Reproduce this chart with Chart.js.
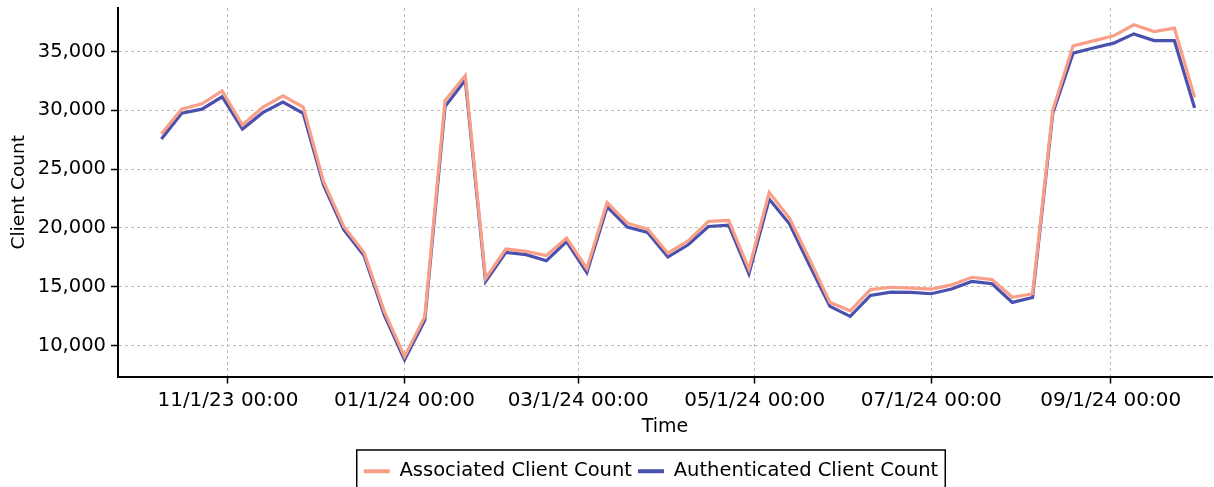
<!DOCTYPE html>
<html>
<head>
<meta charset="utf-8">
<script src="https://cdn.jsdelivr.net/npm/chart.js@4.4.1/dist/chart.umd.min.js"></script>
<style>
  html, body { margin: 0; padding: 0; background: #ffffff; }
  #wrap { width: 1214px; height: 487px; position: relative; }
</style>
</head>
<body>
<div id="wrap"><canvas id="c" width="1214" height="487"></canvas></div>
<script>
// ---- data ----
const weeks = [
  "2023-10-09","2023-10-16","2023-10-23","2023-10-30","2023-11-06","2023-11-13","2023-11-20","2023-11-27",
  "2023-12-04","2023-12-11","2023-12-18","2023-12-25","2024-01-01","2024-01-08","2024-01-15","2024-01-22",
  "2024-01-29","2024-02-05","2024-02-12","2024-02-19","2024-02-26","2024-03-04","2024-03-11","2024-03-18",
  "2024-03-25","2024-04-01","2024-04-08","2024-04-15","2024-04-22","2024-04-29","2024-05-06","2024-05-13",
  "2024-05-20","2024-05-27","2024-06-03","2024-06-10","2024-06-17","2024-06-24","2024-07-01","2024-07-08",
  "2024-07-15","2024-07-22","2024-07-29","2024-08-05","2024-08-12","2024-08-19","2024-08-26","2024-09-02",
  "2024-09-09","2024-09-16","2024-09-23","2024-09-30"
];
const associated = [
  28000, 30100, 30550, 31650, 28750, 30250, 31230, 30270,
  23950, 20120, 17900, 12900, 9050, 12450, 30830, 32950,
  15700, 18200, 18000, 17650, 19130, 16550, 22150, 20400,
  19900, 17850, 18900, 20550, 20630, 16500, 23000, 20830,
  17300, 13650, 12950, 14750, 14950, 14880, 14800, 15150,
  15800, 15600, 14100, 14400, 30050, 35480, 35900, 36330,
  37270, 36700, 36990, 31100
];
const authenticated = [
  27550, 29750, 30100, 31150, 28400, 29800, 30700, 29750,
  23650, 19850, 17650, 12600, 8780, 12130, 30320, 32580,
  15440, 17920, 17720, 17200, 18840, 16200, 21780, 20070,
  19610, 17520, 18560, 20120, 20240, 16100, 22450, 20350,
  16800, 13320, 12470, 14250, 14540, 14510, 14400, 14800,
  15440, 15250, 13660, 14080, 29780, 34860, 35300, 35710,
  36500, 35930, 35930, 30200
];
const tickDates = ["2023-11-01","2024-01-01","2024-03-01","2024-05-01","2024-07-01","2024-09-01"];
const tickLabels = ["11/1/23 00:00","01/1/24 00:00","03/1/24 00:00","05/1/24 00:00","07/1/24 00:00","09/1/24 00:00"];
const yTicks = [10000, 15000, 20000, 25000, 30000, 35000];
const xRange = ["2023-09-24", "2024-10-06"];
const yRange = [7360, 38700];

// ---- chart ----
const FONT = "'DejaVu Sans', Verdana, sans-serif";
const toXY = (vals) => vals.map((v, i) => ({ x: Date.parse(weeks[i]), y: v }));

const legendShift = {
  id: 'legendShift',
  afterLayout(chart) {
    const lg = chart.legend;
    if (!lg) return;
    lg.left += 45; lg.right += 45;
    lg.top += 4; lg.bottom += 4;
  }
};
const legendBox = {
  id: 'legendBox',
  afterDraw(chart) {
    const hb = chart.legend && chart.legend.legendHitBoxes;
    if (!hb || !hb.length) return;
    const first = hb[0], last = hb[hb.length - 1];
    const ctx = chart.ctx;
    ctx.save();
    ctx.strokeStyle = '#000';
    ctx.lineWidth = 1.5;
    const l = first.left - 7, r = last.left + last.width + 7;
    ctx.strokeRect(l, 450, r - l, 60);
    ctx.restore();
  }
};

new Chart(document.getElementById('c'), {
  type: 'line',
  data: {
    datasets: [
      { label: 'Associated Client Count', data: toXY(associated), borderColor: '#f99f87', backgroundColor: '#f99f87',
        borderWidth: 3.2, pointRadius: 0, tension: 0 },
      { label: 'Authenticated Client Count', data: toXY(authenticated), borderColor: '#4a50ad', backgroundColor: '#4a50ad',
        borderWidth: 3.2, pointRadius: 0, tension: 0 }
    ]
  },
  options: {
    responsive: false,
    animation: false,
    layout: { padding: { left: 0, right: 2, top: 8, bottom: 0 } },
    plugins: {
      legend: {
        position: 'bottom',
        labels: {
          font: { family: FONT, size: 19.5 }, color: '#000',
          boxWidth: 26, boxHeight: 4, padding: 6,
          generateLabels(chart) {
            return chart.data.datasets.map((ds, i) => ({
              text: ds.label, fillStyle: ds.borderColor, strokeStyle: ds.borderColor,
              lineWidth: 0, hidden: false, datasetIndex: i, fontColor: '#000'
            }));
          }
        }
      },
      tooltip: { enabled: false }
    },
    scales: {
      x: {
        type: 'linear',
        min: Date.parse(xRange[0]), max: Date.parse(xRange[1]),
        afterBuildTicks(scale) { scale.ticks = tickDates.map(d => ({ value: Date.parse(d) })); },
        afterFit(scale) { scale.height = 75; scale.paddingLeft = 0; scale.paddingRight = 0; },
        ticks: {
          font: { family: FONT, size: 20 }, color: '#000', padding: 5, maxRotation: 0, autoSkip: false,
          callback(value) { const i = tickDates.findIndex(d => Date.parse(d) === value); return i >= 0 ? tickLabels[i] : ''; }
        },
        grid: { color: '#bdbdbd', lineWidth: 1, tickColor: '#000', tickLength: 7, tickWidth: 1.5 },
        border: { display: true, color: '#000', width: 2, dash: [3, 3] },
        title: { display: true, text: 'Time', font: { family: FONT, size: 19 }, color: '#000', padding: { top: 4, bottom: 13 } }
      },
      y: {
        type: 'linear',
        min: yRange[0], max: yRange[1],
        afterBuildTicks(scale) { scale.ticks = yTicks.map(v => ({ value: v })); },
        afterFit(scale) { scale.width = 118; scale.paddingTop = 0; scale.paddingBottom = 0; },
        ticks: { font: { family: FONT, size: 19.5 }, color: '#000', padding: 5 },
        grid: { color: '#bdbdbd', lineWidth: 1, tickColor: '#000', tickLength: 7, tickWidth: 1.5 },
        border: { display: true, color: '#000', width: 2, dash: [3, 3] },
        title: { display: true, text: 'Client Count', font: { family: FONT, size: 18.5 }, color: '#000', padding: { top: 8, bottom: 4 } }
      }
    }
  },
  plugins: [legendShift, legendBox]
});
</script>
</body>
</html>
